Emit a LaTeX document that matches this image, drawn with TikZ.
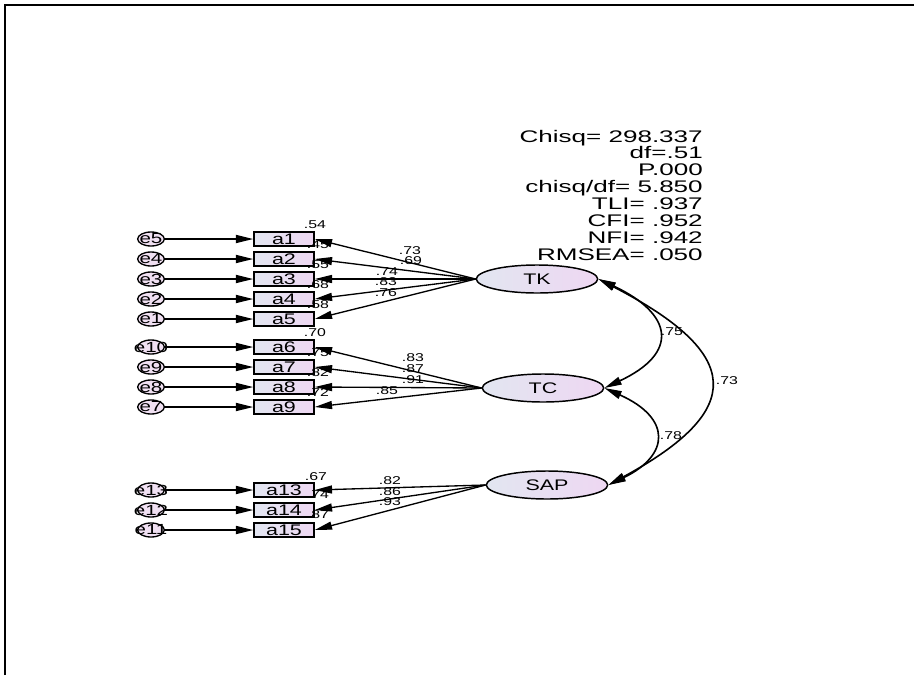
\documentclass[tikz,border=0pt]{standalone}
\usepackage{fontspec}
\setmainfont{Liberation Sans}[FakeStretch=1.4]
\newfontfamily\statsfont{Liberation Sans}[FakeStretch=1.55]
\usepackage{xcolor}
\definecolor{boxleft}{RGB}{226,230,241}
\definecolor{boxright}{RGB}{238,215,242}
\definecolor{errfill}{RGB}{240,224,242}
\usepackage{tikz}
\usetikzlibrary{arrows.meta}
\usetikzlibrary{shapes.geometric}
\newcommand{\widthobs}{45pt}
\newcommand{\widthlat}{91pt}
\newcommand{\widtherr}{20pt}
\tikzset{
    common/.style={draw, line width=1.1pt, inner sep=0pt, left color=boxleft, right color=boxright},
    obs/.style={common, rectangle, minimum width=\widthobs, minimum height=10.5pt, font=\fontsize{11.5}{12}\selectfont},
    lat/.style={common, ellipse, minimum width=\widthlat, minimum height=21pt, font=\fontsize{11.5}{12}\selectfont},
    err/.style={draw, ellipse, line width=1pt, fill=errfill, inner sep=0pt, minimum width=\widtherr, minimum height=10.5pt},
    every label/.style={inner sep=0pt, font=\fontsize{11}{12}\selectfont},
    val/.style={inner sep=0pt, font=\fontsize{8.5}{9}\selectfont},
    fit/.style={anchor=base east, inner sep=0pt, font=\statsfont\fontsize{12.6}{14}\selectfont},
    errline/.style={->, line width=1.3pt},
    load/.style={->, line width=1pt},
    cov/.style={<->, line width=1.2pt}
}

\begin{document}
\begin{tikzpicture}[x=0.75pt, y=-0.75pt, >={Triangle[length=13pt, width=6pt]}]
      \useasboundingbox (0,0) rectangle (914,675);
      \draw[line width=1.5pt] (5,675) -- (5,5) -- (914,5);

      % latent variables
      \path
          (537,279) node[lat] (TK) {TK}
          (543,388) node[lat] (TC) {TC}
          (547,485) node[lat] (SAP) {SAP};

      % TK indicators
      \path (284,239) node[obs] (a1) {a1}
          +(-133,0) node[err, label=center:e5] (e5) {}
          +(31,-14) node[val] (r-a1) {.54};
      \path (284,259) node[obs] (a2) {a2}
          +(-133,0) node[err, label=center:e4] (e4) {}
          +(34,-14) node[val] (r-a2) {.45};
      \path (284,279) node[obs] (a3) {a3}
          +(-133,0) node[err, label=center:e3] (e3) {}
          +(34,-14) node[val] (r-a3) {.55};
      \path (284,299) node[obs] (a4) {a4}
          +(-133,0) node[err, label=center:e2] (e2) {}
          +(34,-14) node[val] (r-a4) {.68};
      \path (284,319) node[obs] (a5) {a5}
          +(-133,0) node[err, label=center:e1] (e1) {}
          +(34,-14) node[val] (r-a5) {.58};

      % TC indicators
      \path (284,347) node[obs] (a6) {a6}
          +(-133,0) node[err, label=center:e10] (e10) {}
          +(31,-14) node[val] (r-a6) {.70};
      \path (284,367) node[obs] (a7) {a7}
          +(-133,0) node[err, label=center:e9] (e9) {}
          +(34,-14) node[val] (r-a7) {.75};
      \path (284,387) node[obs] (a8) {a8}
          +(-133,0) node[err, label=center:e8] (e8) {}
          +(34,-14) node[val] (r-a8) {.82};
      \path (284,407) node[obs] (a9) {a9}
          +(-133,0) node[err, label=center:e7] (e7) {}
          +(34,-14) node[val] (r-a9) {.72};

      % SAP indicators
      \path (284,490) node[obs] (a13) {a13}
          +(-133,0) node[err, label=center:e13] (e13) {}
          +(32,-13) node[val] (r-a13) {.67};
      \path (284,510) node[obs] (a14) {a14}
          +(-133,0) node[err, label=center:e12] (e12) {}
          +(34,-15) node[val] (r-a14) {.74};
      \path (284,530) node[obs] (a15) {a15}
          +(-133,0) node[err, label=center:e11] (e11) {}
          +(34,-15) node[val] (r-a15) {.87};

      % error terms
      \draw[errline] (e5) -- (a1);
      \draw[errline] (e4) -- (a2);
      \draw[errline] (e3) -- (a3);
      \draw[errline] (e2) -- (a4);
      \draw[errline] (e1) -- (a5);
      \draw[errline] (e10) -- (a6);
      \draw[errline] (e9) -- (a7);
      \draw[errline] (e8) -- (a8);
      \draw[errline] (e7) -- (a9);
      \draw[errline] (e13) -- (a13);
      \draw[errline] (e12) -- (a14);
      \draw[errline] (e11) -- (a15);

      % loadings
      \path (TK.west) edge[load] (a1.east) edge[load] (a2.east) edge[load] (a3.east)
          edge[load] (a4.east) edge[load] (a5.east);
      \path (TC.west) edge[load] (a6.east) edge[load] (a7.east) edge[load] (a8.east)
          edge[load] (a9.east);
      \path (SAP.west) edge[load] (a13.east) edge[load] (a14.east) edge[load] (a15.east);

      \path
          (410,251) node[val] (l-a1) {.73}
          (411,261) node[val] (l-a2) {.69}
          (387,272) node[val] (l-a3) {.74}
          (386,282) node[val] (l-a4) {.83}
          (386,293) node[val] (l-a5) {.76}
          (413,358) node[val] (l-a6) {.83}
          (413,369) node[val] (l-a7) {.87}
          (413,380) node[val] (l-a8) {.91}
          (387,391) node[val] (l-a9) {.85}
          (390,481) node[val] (l-a13) {.82}
          (390,492) node[val] (l-a14) {.86}
          (390,502) node[val] (l-a15) {.93};

      % covariances
      \draw[cov] (TK.east) .. controls +(75,35) and +(75,-35) .. (TC.east);
      \draw[cov] (TC.east) .. controls +(67,30) and +(62,-30) .. (SAP.east);
      \draw[cov] (TK.east) .. controls +(145,75) and +(138,-75) .. (SAP.east);
      \path
          (672,332) node[val] (c-tk-tc) {.75}
          (671,436) node[val] (c-tc-sap) {.78}
          (727,381) node[val] (c-tk-sap) {.73};

      % fit statistics
      \path (703,142) node[fit] (chisq) {Chisq= 298.337}
          +(0,16.9) node[fit] (df) {df=.51}
          +(0,33.8) node[fit] (p) {P.000}
          +(0,50.7) node[fit] (ratio) {chisq/df= 5.850}
          +(0,67.6) node[fit] (tli) {TLI= .937}
          +(0,84.5) node[fit] (cfi) {CFI= .952}
          +(0,101.4) node[fit] (nfi) {NFI= .942}
          +(0,118.3) node[fit] (rmsea) {RMSEA= .050};
\end{tikzpicture}
\end{document}
